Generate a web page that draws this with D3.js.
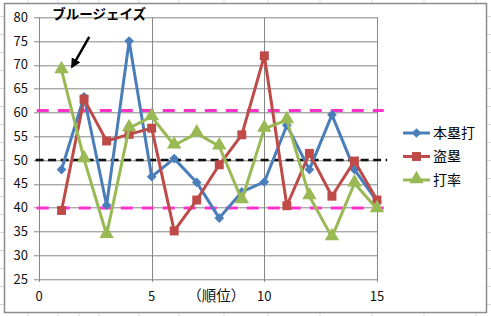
<!DOCTYPE html>
<html>
<head>
<meta charset="utf-8">
<script src="https://cdn.jsdelivr.net/npm/d3@7"></script>
<style>
	html, body { margin: 0; padding: 0; background: #fff; }
	svg { display: block; font-family: "Noto Sans CJK JP", "Noto Sans", sans-serif; }
</style>
</head>
<body>
<svg id="chart" width="491" height="316"></svg>
<script>
// 順位ごとの本塁打・盗塁・打率 (ブルージェイズ)
const ranks = d3.range(1, 16);
const homeRuns = [48, 63.3, 40.5, 75, 46.5, 50.3, 45.3, 37.8, 43.3, 45.4, 57.3, 48, 59.5, 48, 41.3];
const steals = [39.4, 62.8, 54, 55.4, 56.7, 35.1, 41.6, 49, 55.3, 71.9, 40.4, 51.4, 42.4, 49.8, 41.6];
const battingAvg = [68.9, 50.2, 34.3, 56.7, 59.1, 53.1, 55.6, 52.9, 41.6, 56.6, 58.4, 42.4, 33.8, 45.1, 39.7];
const seriesNames = ['本塁打', '盗塁', '打率'];
const refLines = [60.4, 50, 39.9];
const xTicks = [0, 5, 10, 15];
const yTicks = d3.range(25, 81, 5);

(function () {
	const svg = d3.select('#chart');
	const margin = { top: 17.3, left: 39 };
	const width = 338, height = 261.7;

	// spreadsheet cells peeking out around the chart object
	const cellColor = '#d4d9e3';
	const colEdges = [28, 58, 79, 99, 139, 179, 224, 268, 320, 372, 424, 476];
	colEdges.forEach(cx => {
		svg.append('line').attr('x1', cx).attr('x2', cx).attr('y1', 0).attr('y2', 3)
			.attr('stroke', cellColor);
		svg.append('line').attr('x1', cx).attr('x2', cx).attr('y1', 313).attr('y2', 316)
			.attr('stroke', cellColor);
	});
	d3.range(16.5, 316, 18).forEach(ry => {
		svg.append('line').attr('x1', 0).attr('x2', 4).attr('y1', ry).attr('y2', ry)
			.attr('stroke', cellColor);
		svg.append('line').attr('x1', 487).attr('x2', 491).attr('y1', ry).attr('y2', ry)
			.attr('stroke', cellColor);
	});
	svg.append('rect').attr('x', 4.5).attr('y', 3.5).attr('width', 482).attr('height', 309)
		.attr('fill', '#fff').attr('stroke', '#8c8c8c').attr('stroke-width', 1.5);

	const g = svg.append('g')
		.attr('transform', 'translate(' + margin.left + ',' + margin.top + ')');

	const x = d3.scaleLinear().domain([0, 15]).range([0, width]);
	const y = d3.scaleLinear().domain([25, 80]).range([height, 0]);

	const gridColor = '#878787';

	// horizontal grid + top border
	g.append('g')
		.selectAll('line').data(yTicks).join('line')
		.attr('x1', -5).attr('x2', width)
		.attr('y1', d => Math.round(y(d)) + 0.5).attr('y2', d => Math.round(y(d)) + 0.5)
		.attr('stroke', gridColor).attr('stroke-width', 1);
	// vertical grid (5, 10, 15) and y axis line
	g.append('g')
		.selectAll('line').data(xTicks).join('line')
		.attr('x1', d => Math.round(x(d)) + 0.5).attr('x2', d => Math.round(x(d)) + 0.5)
		.attr('y1', 0).attr('y2', height + 3)
		.attr('stroke', gridColor).attr('stroke-width', 1);

	// tick labels
	g.append('g')
		.selectAll('text').data(yTicks).join('text')
		.attr('x', -11).attr('y', d => y(d)).attr('dy', '0.35em')
		.attr('text-anchor', 'end').attr('font-size', 13).attr('fill', '#111')
		.text(d => d);
	g.append('g')
		.selectAll('text').data(xTicks).join('text')
		.attr('x', d => x(d)).attr('y', height + 17).attr('dy', '0.35em')
		.attr('text-anchor', 'middle').attr('font-size', 13).attr('fill', '#111')
		.text(d => d);
	g.append('text')
		.attr('x', x(7.87)).attr('y', height + 17).attr('dy', '0.35em')
		.attr('text-anchor', 'middle').attr('font-size', 14.5).attr('fill', '#111')
		.text('（順位）');

	// reference lines (平均 50, ±10)
	const refStyle = [
		{ color: '#ff33cc', dash: '12,9', w: 3, from: -0.1, to: 15.3 },
		{ color: '#111', dash: '8,4.5', w: 2.5, from: -0.15, to: 15.45 },
		{ color: '#ff33cc', dash: '12,9', w: 3, from: -0.1, to: 15.3 }
	];
	refLines.forEach((v, i) => {
		const s = refStyle[i];
		g.append('line')
			.attr('x1', x(s.from)).attr('x2', x(s.to))
			.attr('y1', y(v)).attr('y2', y(v))
			.attr('stroke', s.color).attr('stroke-width', s.w)
			.attr('stroke-dasharray', s.dash);
	});

	// series
	const colors = ['#4a7ebb', '#be4b48', '#98b954'];
	const symbols = [d3.symbolDiamond2, d3.symbolSquare, d3.symbolTriangle];
	const symbolSize = [60, 80, 90];
	const values = [homeRuns, steals, battingAvg];
	const line = d3.line().x((d, i) => x(ranks[i])).y(d => y(d));

	values.forEach((vals, k) => {
		const sg = g.append('g');
		sg.append('path').attr('d', line(vals))
			.attr('fill', 'none').attr('stroke', colors[k]).attr('stroke-width', 3)
			.attr('stroke-linejoin', 'round');
		sg.selectAll('path.mark').data(vals).join('path')
			.attr('class', 'mark')
			.attr('transform', (d, i) => 'translate(' + x(ranks[i]) + ',' + y(d) + ')' + (k === 2 ? ' translate(0,-1)' : ''))
			.attr('d', d3.symbol().type(symbols[k]).size(symbolSize[k]))
			.attr('fill', colors[k]);
	});

	// annotation
	g.append('text')
		.attr('x', x(2.67)).attr('y', y(80)).attr('dy', '0.1em')
		.attr('text-anchor', 'middle').attr('font-size', 13.5).attr('font-weight', 'bold')
		.attr('fill', '#000')
		.text('ブルージェイズ');
	svg.append('defs').append('marker')
		.attr('id', 'arrowhead').attr('viewBox', '0 0 10 10')
		.attr('refX', 8).attr('refY', 5)
		.attr('markerWidth', 4).attr('markerHeight', 4)
		.attr('orient', 'auto')
		.append('path').attr('d', 'M0,0 L10,5 L0,10 z').attr('fill', '#000');
	g.append('line')
		.attr('x1', x(2.23)).attr('y1', y(75.9))
		.attr('x2', x(1.47)).attr('y2', y(69.6))
		.attr('stroke', '#000').attr('stroke-width', 2.5)
		.attr('marker-end', 'url(#arrowhead)');

	// legend
	const legend = svg.append('g').attr('transform', 'translate(403,133)');
	seriesNames.forEach((name, k) => {
		const row = legend.append('g').attr('transform', 'translate(0,' + (k * 23.5) + ')');
		row.append('line').attr('x1', 0).attr('x2', 27).attr('y1', 0).attr('y2', 0)
			.attr('stroke', colors[k]).attr('stroke-width', 3);
		row.append('path')
			.attr('transform', 'translate(13.5,' + (k === 2 ? -1 : 0) + ')')
			.attr('d', d3.symbol().type(symbols[k]).size(symbolSize[k]))
			.attr('fill', colors[k]);
		row.append('text').attr('x', 30).attr('y', 0).attr('dy', '0.35em')
			.attr('font-size', 14).attr('fill', '#000')
			.text(name);
	});
})();
</script>
</body>
</html>
